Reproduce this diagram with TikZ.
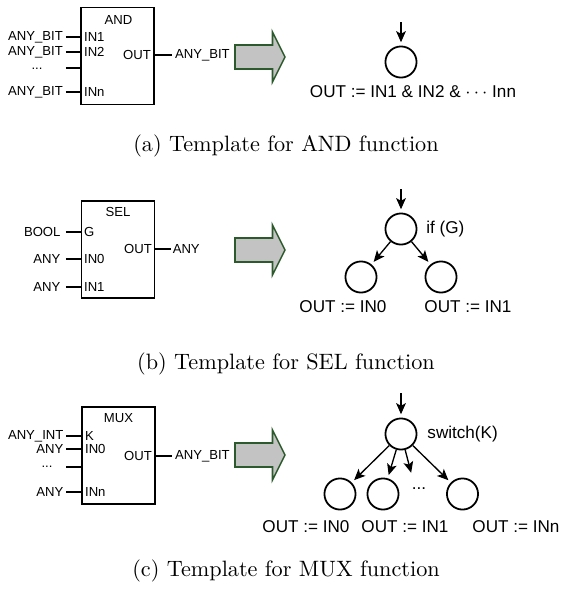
\documentclass[tikz,border=0pt]{standalone}
\usepackage{fontspec}
\newfontfamily\diagfont{Liberation Sans}
\usetikzlibrary{arrows.meta}
\definecolor{arrowgreen}{HTML}{2D5A2D}
\definecolor{arrowgray}{HTML}{C3C3C3}
\begin{document}
\begin{tikzpicture}[x=0.45pt,y=-0.45pt,
  fbox/.style={draw,line width=0.7pt,minimum width=32.9pt,minimum height=43.8pt,inner sep=0pt},
  btxt/.style={font=\diagfont\fontsize{5.9}{7}\selectfont,inner sep=1.2pt},
  pinline/.style={line width=0.6pt},
  tcirc/.style={draw,circle,line width=0.8pt,minimum size=14pt,inner sep=0pt},
  ttxt/.style={font=\diagfont\fontsize{7.7}{9}\selectfont,inner sep=0pt},
  tarrow/.style={-{Stealth[length=5pt,width=4.4pt,inset=1.2pt]},line width=0.6pt,shorten >=1.5pt},
  bigarrow/.style={draw=arrowgreen,fill=arrowgray,line width=0.7pt,line join=miter},
  capt/.style={inner sep=0pt}]
	\useasboundingbox (0,0) rectangle (563,590);
	% (a) AND
	\node[fbox] (andbox) at (117.5,56) {};
	\node[btxt] (andname) at (118.5,20) {AND};
	\node[btxt,anchor=west] (a-in1) at (81,37) {IN1};
	\node[btxt,anchor=west] (a-in2) at (81,52) {IN2};
	\node[btxt,anchor=west] (a-inn) at (81,92) {INn};
	\node[btxt,anchor=east] (a-t1) at (66,37) {ANY\_BIT};
	\node[btxt,anchor=east] (a-t2) at (66,52) {ANY\_BIT};
	\node[btxt,anchor=east] (a-tn) at (66,92) {ANY\_BIT};
	\node[btxt] (a-dots) at (37,69) {...};
	\coordinate (a-d1) at (66,68); \coordinate (a-d2) at (81,68);
	\draw[pinline] (a-t1.east)--(a-in1.west) (a-t2.east)--(a-in2.west) (a-tn.east)--(a-inn.west);
	\draw[pinline] (a-d1)--(a-d2);
	\node[btxt,anchor=east] (a-out) at (154,55) {OUT};
	\node[btxt,anchor=west] (a-ty) at (172,55) {ANY\_BIT};
	\draw[pinline] (a-out.east)--(a-ty.west);
	\node[tcirc] (a-root) at (401,62) {};
	\coordinate (a-top) at (401,22);
	\draw[tarrow] (a-top)--(a-root);
	\node[ttxt] (a-expr) at (413,92) {OUT := IN1 \& IN2 \& $\cdots$ Inn};
	\node[capt] (a-cap) at (286,146) {(a) Template for AND function};
	% (b) SEL
	\node[fbox] (selbox) at (118,249.5) {};
	\node[btxt] (selname) at (118,212) {SEL};
	\node[btxt,anchor=west] (b-g) at (81,232) {G};
	\node[btxt,anchor=west] (b-in0) at (81,259) {IN0};
	\node[btxt,anchor=west] (b-in1) at (81,287) {IN1};
	\node[btxt,anchor=east,inner xsep=2.3pt] (b-t1) at (66,232) {BOOL};
	\node[btxt,anchor=east,inner xsep=2.3pt] (b-t2) at (66,259) {ANY};
	\node[btxt,anchor=east,inner xsep=2.3pt] (b-t3) at (66,287) {ANY};
	\draw[pinline] (b-t1.east)--(b-g.west) (b-t2.east)--(b-in0.west) (b-t3.east)--(b-in1.west);
	\node[btxt,anchor=east] (b-out) at (155,249) {OUT};
	\node[btxt,anchor=west,inner xsep=0.6pt] (b-ty) at (171,249) {ANY};
	\draw[pinline] (b-out.east)--(b-ty.west);
	\node[tcirc] (b-root) at (401,229) {};
	\node[tcirc] (b-left) at (361,277) {};
	\node[tcirc] (b-right) at (441,277) {};
	\coordinate (b-top) at (401,189);
	\draw[tarrow] (b-top)--(b-root);
	\draw[tarrow] (b-root)--(b-left);
	\draw[tarrow] (b-root)--(b-right);
	\node[ttxt,anchor=west] (b-cond) at (426,229) {if (G)};
	\node[ttxt] (b-l0) at (343,307) {OUT := IN0};
	\node[ttxt] (b-l1) at (468,307) {OUT := IN1};
	\node[capt] (b-cap) at (286,364) {(b) Template for SEL function};
	% (c) MUX
	\node[fbox] (muxbox) at (118.5,455.5) {};
	\node[btxt] (muxname) at (118.5,418) {MUX};
	\node[btxt,anchor=west] (c-k) at (82,436) {K};
	\node[btxt,anchor=west] (c-in0) at (82,449) {IN0};
	\node[btxt,anchor=west] (c-inn) at (82,492) {INn};
	\node[btxt,anchor=east] (c-t1) at (66.5,436) {ANY\_INT};
	\node[btxt,anchor=east] (c-t2) at (66.5,449) {ANY};
	\node[btxt,anchor=east] (c-tn) at (66.5,492) {ANY};
	\node[btxt] (c-dots) at (47,467) {...};
	\coordinate (c-d1) at (66.5,467); \coordinate (c-d2) at (82,467);
	\draw[pinline] (c-t1.east)--(c-k.west) (c-t2.east)--(c-in0.west) (c-tn.east)--(c-inn.west);
	\draw[pinline] (c-d1)--(c-d2);
	\node[btxt,anchor=east] (c-out) at (155,456) {OUT};
	\node[btxt,anchor=west] (c-ty) at (172,456) {ANY\_BIT};
	\draw[pinline] (c-out.east)--(c-ty.west);
	\node[tcirc] (c-root) at (401,434) {};
	\node[tcirc] (c-ch0) at (340,494) {};
	\node[tcirc] (c-ch1) at (383,494) {};
	\node[tcirc] (c-chn) at (462.5,494) {};
	\node[ttxt] (c-more) at (419,489) {...};
	\coordinate (c-top) at (401,393);
	\coordinate (c-mid) at (412,476);
	\draw[tarrow] (c-top)--(c-root);
	\draw[tarrow] (c-root)--(c-ch0);
	\draw[tarrow] (c-root)--(c-ch1);
	\draw[tarrow] (c-root)--(c-mid);
	\draw[tarrow] (c-root)--(c-chn);
	\node[ttxt,anchor=west] (c-cond) at (427,434) {switch(K)};
	\node[ttxt] (c-l0) at (306,527) {OUT := IN0};
	\node[ttxt] (c-l1) at (405,527) {OUT := IN1};
	\node[ttxt] (c-ln) at (516,527) {OUT := INn};
	\node[capt] (c-cap) at (286,571) {(c) Template for MUX function};
	% block arrows
	\foreach \ay in {57,250,455}
		\draw[bigarrow] (235,\ay-12)--(272.5,\ay-12)--(272.5,\ay-25)--(285,\ay)
			--(272.5,\ay+25)--(272.5,\ay+12)--(235,\ay+12)--cycle;
\end{tikzpicture}
\end{document}
